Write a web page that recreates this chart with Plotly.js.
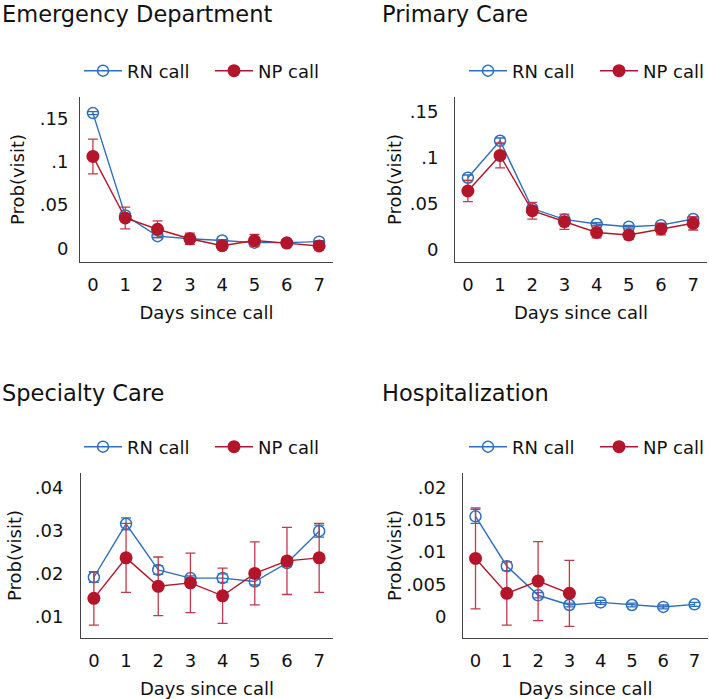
<!DOCTYPE html>
<html>
<head>
<meta charset="utf-8">
<script src="https://cdn.plot.ly/plotly-3.0.1.min.js"></script>
<style>html,body{margin:0;padding:0;background:#fff;}#chart{width:709px;height:699px;}</style>
</head>
<body>
<div id="chart"></div>
<script>
// ---- data ----
const days = [0, 1, 2, 3, 4, 5, 6, 7];
const panelTitles = ["Emergency Department", "Primary Care", "Specialty Care", "Hospitalization"];
const seriesNames = ["RN call", "NP call"];

const edRN    = [0.156, 0.038, 0.014, 0.011, 0.009, 0.0065, 0.0065, 0.0077];
const edRNerr = [0.0018, 0.002, 0.0015, 0.001, 0.001, 0.001, 0.001, 0.001];
const edNP    = [0.106, 0.035, 0.022, 0.011, 0.003, 0.009, 0.006, 0.0027];
const edNPerr = [0.020, 0.0125, 0.0097, 0.0065, 0.002, 0.007, 0.0035, 0.002];

const pcRN    = [0.0784, 0.1185, 0.045, 0.0332, 0.0282, 0.0253, 0.027, 0.0336];
const pcRNerr = [0.003, 0.003, 0.002, 0.0015, 0.0015, 0.0015, 0.0015, 0.002];
const pcNP    = [0.064, 0.1026, 0.0426, 0.0307, 0.019, 0.0163, 0.0228, 0.029];
const pcNPerr = [0.0115, 0.0135, 0.009, 0.0083, 0.0058, 0.005, 0.0063, 0.0073];

const scRN    = [0.0191, 0.0315, 0.0208, 0.0189, 0.0189, 0.0181, 0.0224, 0.0298];
const scRNerr = [0.0012, 0.0014, 0.001, 0.0005, 0.001, 0.0008, 0.0008, 0.0014];
const scNP    = [0.0142, 0.0236, 0.017, 0.0178, 0.0148, 0.020, 0.0229, 0.0236];
const scNPerr = [0.0062, 0.008, 0.0068, 0.0069, 0.0064, 0.0073, 0.0078, 0.008];

const hoRN    = [0.0155, 0.0078, 0.0033, 0.0018, 0.0022, 0.0018, 0.0015, 0.0019];
const hoRNerr = [0.0011, 0.0007, 0.0004, 0.0003, 0.0003, 0.0003, 0.0003, 0.0003];
const hoNP    = [0.009, 0.0036, 0.0055, 0.0036, null, null, null, null];
const hoNPerr = [0.0078, 0.0049, 0.0061, 0.0051, null, null, null, null];

const edTickVals = [0, 0.05, 0.1, 0.15];
const edTickText = ["0", ".05", ".1", ".15"];
const pcTickVals = [0, 0.05, 0.1, 0.15];
const pcTickText = ["0", ".05", ".1", ".15"];
const scTickVals = [0.01, 0.02, 0.03, 0.04];
const scTickText = [".01", ".02", ".03", ".04"];
const hoTickVals = [0, 0.005, 0.01, 0.015, 0.02];
const hoTickText = ["0", ".005", ".01", ".015", ".02"];
const xTitle = "Days since call";
const yTitle = "Prob(visit)";

// ---- styling ----
const W = 709, H = 699;
const BLUE = "#2d6fbd", RED = "#b3152b", RED_ERR = "#c13a4b";
const FONT = "DejaVu Sans, Verdana, sans-serif";
const FS = 18;
const px = v => v / W;
const py = v => 1 - v / H;

const panels = [
  {rn: edRN, rnE: edRNerr, np: edNP, npE: edNPerr, tv: edTickVals, tt: edTickText, yr: [-0.0158, 0.1746],
   xd: [80, 333], yd: [97, 262], leg: {x: 103, y: 71}, title: {x: 0, y: 14}, ygap: 7, ystand: 10},
  {rn: pcRN, rnE: pcRNerr, np: pcNP, npE: pcNPerr, tv: pcTickVals, tt: pcTickText, yr: [-0.013, 0.166],
   xd: [455, 707], yd: [97, 262], leg: {x: 488, y: 71}, title: {x: 380, y: 14}, ygap: 12, ystand: 3},
  {rn: scRN, rnE: scRNerr, np: scNP, npE: scNPerr, tv: scTickVals, tt: scTickText, yr: [0.005, 0.0433],
   xd: [81, 333], yd: [473, 638], leg: {x: 103, y: 447}, title: {x: 0, y: 393}, ygap: 13, ystand: 8},
  {rn: hoRN, rnE: hoRNerr, np: hoNP, npE: hoNPerr, tv: hoTickVals, tt: hoTickText, yr: [-0.0033, 0.0222],
   xd: [463, 708], yd: [473, 638], leg: {x: 488, y: 447}, title: {x: 380, y: 393}, ygap: 12, ystand: 0}
];

const traces = [];
const layout = {
  width: W, height: H,
  margin: {l: 0, r: 0, t: 0, b: 0, autoexpand: false},
  paper_bgcolor: "#fff", plot_bgcolor: "#fff",
  font: {family: FONT, color: "#111", size: FS},
  annotations: []
};

panels.forEach((p, i) => {
  const n = i + 1;
  const xa = n === 1 ? "x" : "x" + n;
  const ya = n === 1 ? "y" : "y" + n;
  const legName = n === 1 ? "legend" : "legend" + n;
  traces.push({
    type: "scatter", mode: "lines+markers", name: seriesNames[0],
    x: days, y: p.rn, xaxis: xa, yaxis: ya, legend: legName,
    line: {color: BLUE, width: 1.4},
    marker: {symbol: "circle-open", size: 11, color: BLUE, line: {width: 1.5, color: BLUE}},
    error_y: {type: "data", array: p.rnE, visible: true, color: BLUE, thickness: 1.3, width: 5}
  });
  traces.push({
    type: "scatter", mode: "lines+markers", name: seriesNames[1],
    x: days, y: p.np, xaxis: xa, yaxis: ya, legend: legName, legendwidth: 60,
    line: {color: RED, width: 1.4},
    marker: {symbol: "circle", size: 13, color: RED},
    error_y: {type: "data", array: p.npE, visible: true, color: RED_ERR, thickness: 1.3, width: 5},
    connectgaps: false
  });
  const xKey = n === 1 ? "xaxis" : "xaxis" + n;
  const yKey = n === 1 ? "yaxis" : "yaxis" + n;
  layout[xKey] = {
    domain: [px(p.xd[0]), px(p.xd[1])], anchor: ya,
    range: [-0.4, 7.43], tickvals: days, ticktext: days.map(String),
    showline: true, linecolor: "#444", linewidth: 1, ticks: "", showgrid: false, zeroline: false,
    ticklabelstandoff: 6,
    tickfont: {size: FS, family: FONT, color: "#111"},
    title: {text: xTitle, font: {size: FS, family: FONT, color: "#111"}, standoff: 12}
  };
  layout[yKey] = {
    domain: [py(p.yd[1]), py(p.yd[0])], anchor: xa,
    range: p.yr, tickvals: p.tv, ticktext: p.tt,
    showline: true, linecolor: "#444", linewidth: 1, ticks: "", showgrid: false, zeroline: false,
    ticklabelstandoff: p.ygap,
    tickfont: {size: FS, family: FONT, color: "#111"},
    title: {text: yTitle, font: {size: FS, family: FONT, color: "#111"}, standoff: p.ystand}
  };
  layout[legName] = {
    orientation: "h", x: px(p.leg.x - 24), y: py(p.leg.y), xanchor: "left", yanchor: "middle",
    font: {size: FS, family: FONT, color: "#111"}, bgcolor: "rgba(0,0,0,0)",
    itemwidth: 38, entrywidth: 78, itemclick: false, itemdoubleclick: false
  };
  layout.annotations.push({
    text: panelTitles[i], xref: "paper", yref: "paper", x: px(p.title.x), y: py(p.title.y),
    xanchor: "left", yanchor: "middle", showarrow: false,
    font: {size: 22.5, family: FONT, color: "#111"}
  });
});

Plotly.newPlot("chart", traces, layout, {displayModeBar: false, staticPlot: true});
</script>
</body>
</html>
